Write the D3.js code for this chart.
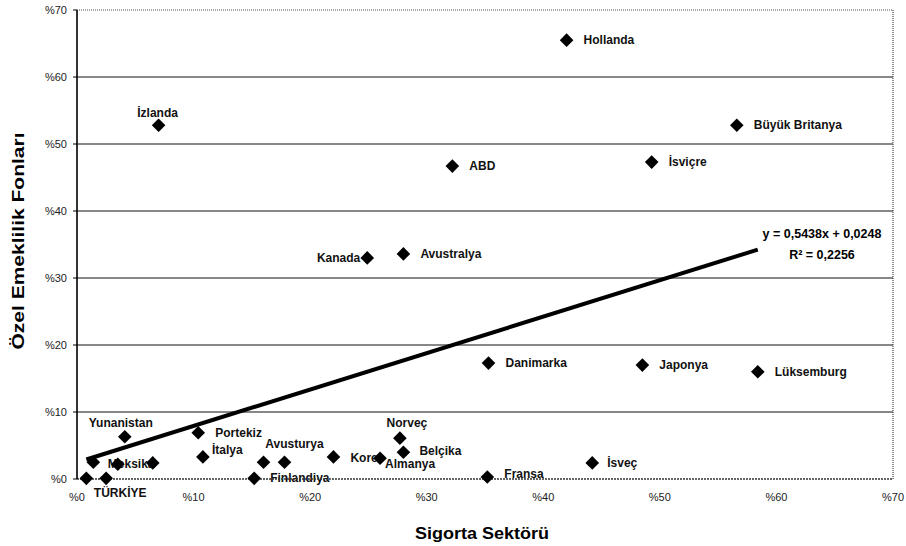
<!DOCTYPE html>
<html><head><meta charset="utf-8">
<script src="https://cdn.jsdelivr.net/npm/d3@7"></script>
<style>
body{margin:0;background:#fff;}
text{font-family:"Liberation Sans",Arial,sans-serif;}
</style></head>
<body><svg id="c" width="906" height="546"></svg>
<script>
// ---- data ----
const countries = ["Hollanda","İzlanda","Büyük Britanya","İsviçre","ABD","Kanada","Avustralya","Danimarka","Japonya","Lüksemburg","Norveç","Belçika","Kore","Almanya","Avusturya","İspanya","Finlandiya","İtalya","Portekiz","Yunanistan","Meksika","Yeni Zelanda","Polonya","Çek Cumhuriyeti","TÜRKİYE","Fransa","İsveç"];
const insurance = [42.0,7.0,56.6,49.3,32.2,24.9,28.0,35.3,48.5,58.4,27.7,28.0,22.0,26.0,17.8,16.0,15.2,10.8,10.4,4.1,3.5,1.4,6.5,0.8,2.5,35.2,44.2];
const pension   = [65.5,52.8,52.8,47.3,46.7,33.0,33.6,17.3,17.0,16.0,6.1,4.0,3.3,3.1,2.5,2.5,0.1,3.3,6.9,6.3,2.2,2.5,2.4,0.1,0.1,0.3,2.4];
const showLabel = [1,1,1,1,1,1,1,1,1,1,1,1,1,1,1,0,1,1,1,1,1,0,0,0,1,1,1];
const xTicks = [0,10,20,30,40,50,60,70];
const yTicks = [0,10,20,30,40,50,60,70];
const trendSlope = 0.5438, trendIntercept = 0.0248;
const equationText = "y = 0,5438x + 0,0248";
const r2Text = "R² = 0,2256";
const xTitle = "Sigorta Sektörü";
const yTitle = "Özel Emeklilik Fonları";

// ---- label placement (layout): [dx, dy, anchor] ----
const place = {
  "İzlanda":[-1,-8,"middle"], "Kanada":[-7,4,"end"], "Yunanistan":[-4,-10,"middle"],
  "TÜRKİYE":[14,19,"middle"], "Meksika":[-10,4,"start"], "Avusturya":[10,-14,"middle"],
  "Norveç":[7,-11,"middle"], "Almanya":[5,10,"start"], "Kore":[17,5,"start"],
  "Finlandiya":[16,4,"start"], "İtalya":[9,-3,"start"], "Portekiz":[17,4,"start"],
  "Belçika":[16,3,"start"], "Fransa":[17,1,"start"], "İsveç":[15,4,"start"]
};

const svg = d3.select("#c");
const x = d3.scaleLinear().domain([0,70]).range([77,893]);
const y = d3.scaleLinear().domain([0,70]).range([479,10]);

const pts = countries.map((c,i)=>({name:c,x:insurance[i],y:pension[i],show:showLabel[i]}));

// gridlines
svg.append("g").selectAll("line").data(yTicks.filter(d=>d>0 && d<70)).join("line")
  .attr("x1",x(0)).attr("x2",x(70)).attr("y1",d=>y(d)).attr("y2",d=>y(d))
  .attr("stroke","#111").attr("stroke-width",1);

// labels (drawn beneath axis line and markers)
svg.append("g").selectAll("text").data(pts.filter(d=>d.show)).join("text")
  .attr("x",d=>x(d.x)+(place[d.name]?place[d.name][0]:17))
  .attr("y",d=>y(d.y)+(place[d.name]?place[d.name][1]:4))
  .attr("text-anchor",d=>place[d.name]?place[d.name][2]:"start")
  .attr("font-size",12).attr("font-weight","bold").attr("fill","#111")
  .text(d=>d.name);

// top & right frame (dotted)
svg.append("line").attr("x1",x(0)).attr("x2",x(70)).attr("y1",y(70)).attr("y2",y(70))
  .attr("stroke","#555").attr("stroke-width",1).attr("stroke-dasharray","1,1");
svg.append("line").attr("x1",x(70)).attr("x2",x(70)).attr("y1",y(70)).attr("y2",y(0))
  .attr("stroke","#444").attr("stroke-width",1.2).attr("stroke-dasharray","1,1");
// bottom axis
svg.append("line").attr("x1",x(0)).attr("x2",x(70)).attr("y1",y(0)).attr("y2",y(0))
  .attr("stroke","#333").attr("stroke-width",1.3).attr("stroke-dasharray","2,1");
// left axis
svg.append("line").attr("x1",x(0)).attr("x2",x(0)).attr("y1",y(70)).attr("y2",y(0))
  .attr("stroke","#000").attr("stroke-width",1.6);
svg.append("g").selectAll("line").data(yTicks).join("line")
  .attr("x1",x(0)-4).attr("x2",x(0)).attr("y1",d=>y(d)).attr("y2",d=>y(d))
  .attr("stroke","#000");

// tick labels
svg.append("g").selectAll("text").data(yTicks).join("text")
  .attr("x",67).attr("y",d=>y(d)+4).attr("text-anchor","end")
  .attr("font-size",11).attr("fill","#222").text(d=>"%"+d);
svg.append("g").selectAll("text").data(xTicks).join("text")
  .attr("x",d=>x(d)).attr("y",501).attr("text-anchor","middle")
  .attr("font-size",11).attr("fill","#222").text(d=>"%"+d);

// trend line
const xmin = d3.min(insurance), xmax = d3.max(insurance);
svg.append("line")
  .attr("x1",x(xmin)).attr("y1",y((trendSlope*xmin/100+trendIntercept)*100))
  .attr("x2",x(xmax)).attr("y2",y((trendSlope*xmax/100+trendIntercept)*100))
  .attr("stroke","#000").attr("stroke-width",4);

// points
svg.append("g").selectAll("path").data(pts).join("path")
  .attr("transform",d=>`translate(${x(d.x)},${y(d.y)})`)
  .attr("d",d3.symbol().type(d3.symbolDiamond2).size(118))
  .attr("fill","#000");

// equation
svg.append("text").attr("x",822).attr("y",238).attr("text-anchor","middle")
  .attr("font-size",12.5).attr("font-weight","bold").text(equationText);
svg.append("text").attr("x",822).attr("y",259).attr("text-anchor","middle")
  .attr("font-size",12.5).attr("font-weight","bold").text(r2Text);

// axis titles
svg.append("text").attr("x",482).attr("y",539).attr("text-anchor","middle")
  .attr("font-size",16).attr("font-weight","bold")
  .attr("textLength",134).attr("lengthAdjust","spacingAndGlyphs").text(xTitle);
svg.append("text").attr("transform","translate(24,241) rotate(-90)").attr("text-anchor","middle")
  .attr("font-size",16).attr("font-weight","bold")
  .attr("textLength",217).attr("lengthAdjust","spacingAndGlyphs").text(yTitle);
</script></body></html>
